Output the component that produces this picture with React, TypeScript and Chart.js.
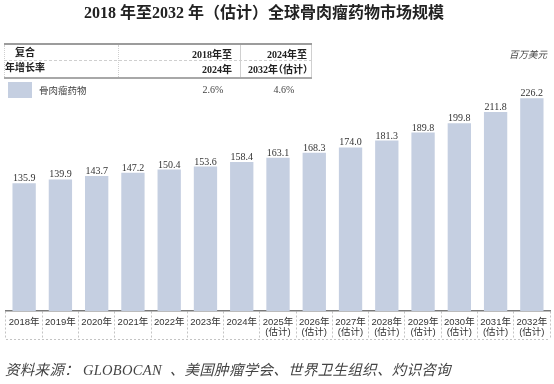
import React, { useEffect, useRef } from "react";
import { Chart, registerables } from "chart.js";

Chart.register(...registerables);

const categories: string[][] = [
  ["2018年"], ["2019年"], ["2020年"], ["2021年"], ["2022年"], ["2023年"], ["2024年"],
  ["2025年", "(估计)"], ["2026年", "(估计)"], ["2027年", "(估计)"], ["2028年", "(估计)"],
  ["2029年", "(估计)"], ["2030年", "(估计)"], ["2031年", "(估计)"], ["2032年", "(估计)"],
];
const marketValues: number[] = [
  135.9, 139.9, 143.7, 147.2, 150.4, 153.6, 158.4, 163.1, 168.3, 174.0, 181.3, 189.8, 199.8, 211.8, 226.2,
];
const seriesName = "骨肉瘤药物";
const cagrHeaders = ["2018年至", "2024年", "2024年至", "2032年（估计）"];
const cagrValues = ["2.6%", "4.6%"];

const BAR = "rgb(197,207,225)";
const SERIF = '"Liberation Serif", "Noto Sans CJK SC", serif';
const SANS = '"Liberation Sans", "Noto Sans CJK SC", sans-serif';
const CJK = '"Noto Sans CJK SC", sans-serif';

const labelPlugin = {
  id: "valueLabels",
  afterDatasetsDraw(chart: any) {
    const ctx = chart.ctx;
    const meta = chart.getDatasetMeta(0);
    ctx.save();
    ctx.font = `10px ${SERIF}`;
    ctx.fillStyle = "#333";
    ctx.textAlign = "center";
    ctx.textBaseline = "alphabetic";
    meta.data.forEach((bar: any, i: number) => {
      const v = chart.data.datasets[0].data[i] as number;
      ctx.fillText(v.toFixed(1), bar.x, bar.y - 2);
    });
    ctx.restore();
  },
  afterDraw(chart: any) {
    const { ctx, chartArea } = chart;
    ctx.save();
    ctx.strokeStyle = "#c4c4c4";
    ctx.lineWidth = 1;
    ctx.setLineDash([2, 2]);
    ctx.beginPath();
    const y = Math.round(chartArea.bottom + 28) + 0.5;
    ctx.moveTo(chartArea.left, y);
    ctx.lineTo(chartArea.right, y);
    ctx.stroke();
    ctx.restore();
  },
};

function Txt(props: { children: React.ReactNode; style: React.CSSProperties }) {
  return (
    <div style={{ position: "absolute", whiteSpace: "nowrap", lineHeight: "14px", ...props.style }}>
      {props.children}
    </div>
  );
}

export default function App() {
  const ref = useRef<HTMLCanvasElement>(null);
  useEffect(() => {
    if (!ref.current) return;
    const chart = new Chart(ref.current, {
      type: "bar",
      data: {
        labels: categories,
        datasets: [
          {
            label: seriesName,
            data: marketValues,
            backgroundColor: BAR,
            barPercentage: 0.643,
            categoryPercentage: 1,
          },
        ],
      },
      options: {
        animation: false,
        responsive: false,
        devicePixelRatio: 1,
        layout: { padding: { left: 6, right: 4, top: 76, bottom: 0 } },
        plugins: { legend: { display: false }, tooltip: { enabled: false }, title: { display: false } },
        scales: {
          x: {
            offset: true,
            grid: {
              offset: true,
              drawOnChartArea: false,
              drawTicks: true,
              tickLength: 28,
              tickBorderDash: [2, 2],
              tickColor: "#c4c4c4",
              color: "#c4c4c4",
              tickWidth: 1,
            },
            border: { display: true, color: "#7a7a7a", width: 1.5 },
            ticks: {
              autoSkip: false,
              maxRotation: 0,
              minRotation: 0,
              padding: -22,
              color: "#333",
              font: { size: 9.5, family: SANS, lineHeight: 1.1 },
            },
            afterFit: (scale: any) => {
              scale.height = 73;
            },
          },
          y: { display: false, min: 0, max: 250 },
        },
      },
      plugins: [labelPlugin],
    });
    return () => chart.destroy();
  }, []);

  const line = (s: React.CSSProperties) => <div style={{ position: "absolute", ...s }} />;

  return (
    <div style={{ position: "fixed", left: 0, top: 0, width: 554, height: 384, background: "#fff", overflow: "hidden" }}>
      <canvas ref={ref} width={554} height={384} style={{ position: "absolute", left: 0, top: 0, width: 554, height: 384 }} />
      <Txt style={{ left: 0, width: 528, textAlign: "center", top: 5, fontSize: 16, lineHeight: "16px", fontWeight: 700, fontFamily: SERIF, color: "#222" }}>
        2018 年至2032 年（估计）全球骨肉瘤药物市场规模
      </Txt>

      {/* CAGR table */}
      {line({ left: 4, top: 43, width: 308, height: 2, background: "#9c9c9c" })}
      {line({ left: 4, top: 60, width: 308, height: 0, borderTop: "1px dashed #cfcfcf" })}
      {line({ left: 4, top: 77, width: 308, height: 1.5, background: "#a8a8a8" })}
      {line({ left: 4, top: 45, width: 0, height: 32, borderLeft: "1px dotted #cfcfcf" })}
      {line({ left: 118, top: 45, width: 0, height: 32, borderLeft: "1px dotted #cfcfcf" })}
      {line({ left: 240, top: 45, width: 0, height: 32, borderLeft: "1px solid #d0d0d0" })}
      {line({ left: 311, top: 45, width: 0, height: 32, borderLeft: "1px solid #d0d0d0" })}

      <Txt style={{ left: 15, top: 45, fontSize: 10, fontWeight: 700, fontFamily: CJK, color: "#222" }}>复合</Txt>
      <Txt style={{ left: 5, top: 60, fontSize: 10, fontWeight: 700, fontFamily: CJK, color: "#222" }}>年增长率</Txt>
      <Txt style={{ right: 554 - 232, top: 48, fontSize: 10, fontWeight: 700, fontFamily: SERIF, color: "#222" }}>{cagrHeaders[0]}</Txt>
      <Txt style={{ right: 554 - 232, top: 63, fontSize: 10, fontWeight: 700, fontFamily: SERIF, color: "#222" }}>{cagrHeaders[1]}</Txt>
      <Txt style={{ right: 554 - 307, top: 48, fontSize: 10, fontWeight: 700, fontFamily: SERIF, color: "#222" }}>{cagrHeaders[2]}</Txt>
      <Txt style={{ right: 554 - 308, top: 63, fontSize: 10, fontWeight: 700, fontFamily: SERIF, color: "#222", fontFeatureSettings: '"halt"' }}>{cagrHeaders[3]}</Txt>

      {line({ left: 8, top: 82, width: 24, height: 16, background: BAR })}
      <Txt style={{ left: 39, top: 83, fontSize: 9.5, fontFamily: CJK, color: "#444" }}>{seriesName}</Txt>
      <Txt style={{ left: 193, width: 40, textAlign: "center", top: 83, fontSize: 10, fontFamily: SERIF, color: "#444" }}>{cagrValues[0]}</Txt>
      <Txt style={{ left: 264, width: 40, textAlign: "center", top: 83, fontSize: 10, fontFamily: SERIF, color: "#444" }}>{cagrValues[1]}</Txt>

      <Txt style={{ right: 7, top: 47, fontSize: 9.5, fontStyle: "italic", fontFamily: CJK, color: "#444" }}>百万美元</Txt>

      <Txt style={{ left: 5, top: 362, fontSize: 14.5, lineHeight: "16px", letterSpacing: "0.3px", fontStyle: "italic", fontFamily: SERIF, color: "#444" }}>
        资料来源：&nbsp;GLOBOCAN&nbsp; 、美国肿瘤学会、世界卫生组织、灼识咨询
      </Txt>
    </div>
  );
}
